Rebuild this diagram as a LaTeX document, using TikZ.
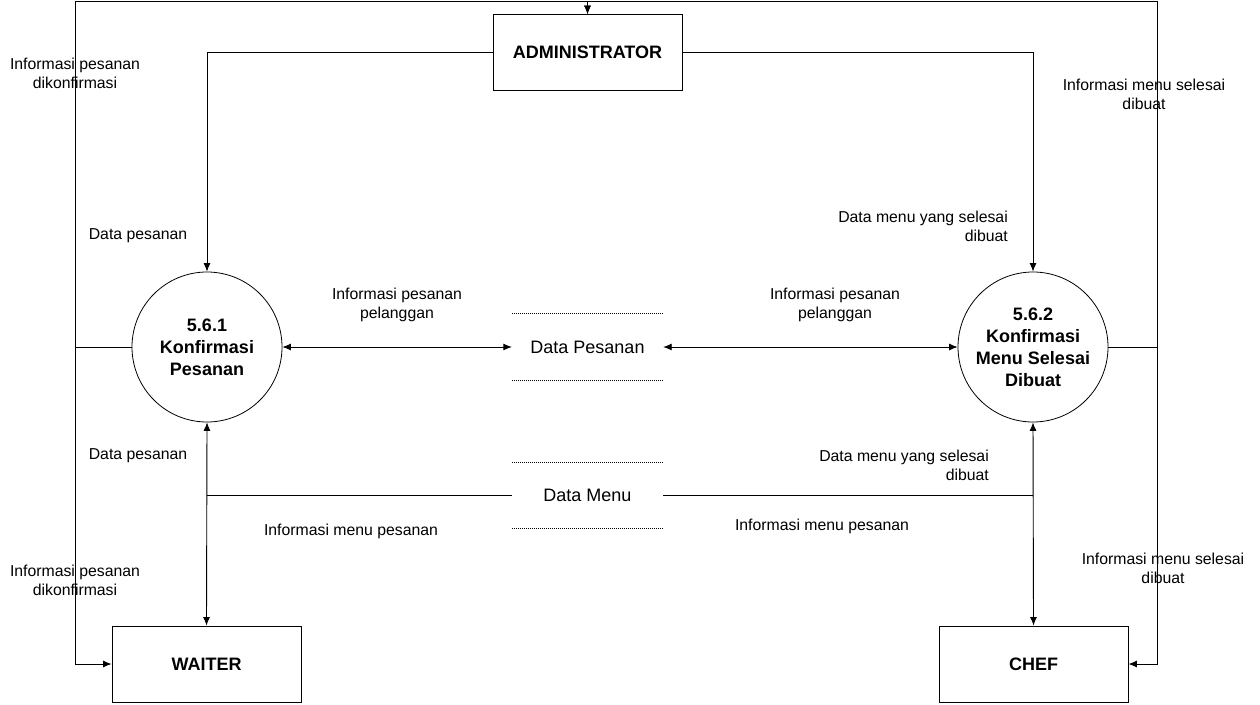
\documentclass[tikz,border=0pt]{standalone}
\usepackage{fontspec}
\setmainfont{Liberation Sans}
\usetikzlibrary{arrows.meta}

\tikzset{
	entity/.style={draw, line width=0.9pt, minimum width=189pt, minimum height=76pt, inner sep=0pt, font=\fontsize{18}{22}\selectfont\bfseries},
	process/.style={draw, circle, line width=0.8pt, minimum size=150pt, inner sep=0pt, align=center, font=\fontsize{18}{22}\selectfont\bfseries},
	store/.style={minimum width=151pt, minimum height=66pt, inner sep=0pt, font=\fontsize{18}{22}\selectfont},
	lbl/.style={align=center, inner sep=0pt, font=\fontsize{15.8}{19}\selectfont},
	flow/.style={line width=0.9pt, -{Latex[length=8.5pt,width=7pt]}},
	both/.style={line width=0.9pt, {Latex[length=8.5pt,width=7pt]}-{Latex[length=8.5pt,width=7pt]}},
	plain/.style={line width=0.9pt},
	dots/.style={line width=0.8pt, dash pattern=on 1pt off 1pt}
}

\begin{document}
\begin{tikzpicture}[x=1pt,y=-1pt]
			\useasboundingbox (0,0) rectangle (1260,704);
			
			% External entities
			\node[entity] (admin) at (587.5,52.5) {ADMINISTRATOR};
			\node[entity] (waiter) at (206.5,664) {WAITER};
			\node[entity] (chef) at (1033.5,664) {CHEF};
			
			% Processes
			\node[process] (konf) at (207,347) {5.6.1\\Konfirmasi\\Pesanan};
			\node[process] (menu) at (1033,347) {5.6.2\\Konfirmasi\\Menu Selesai\\Dibuat};
			
			% Data stores
			\node[store] (dpesan) at (587.5,347) {Data Pesanan};
			\node[store] (dmenu) at (587.5,495.5) {Data Menu};
			\draw[dots] (dpesan.north west) -- (dpesan.north east);
			\draw[dots] (dpesan.south west) -- (dpesan.south east);
			\draw[dots] (dmenu.north west) -- (dmenu.north east);
			\draw[dots] (dmenu.south west) -- (dmenu.south east);
			
			% Corners of the outer loop
			\coordinate (topleft) at (75,1);
			\coordinate (topright) at (1157,1);
			\coordinate (botleft) at (75,664);
			\coordinate (botright) at (1157,664);
			
			% Connecting lines
			\draw[flow] (konf.west) -| (topleft) -| (admin.north);
			\draw[flow] (konf.west) -| (botleft) -- (waiter.west);
			\draw[flow] (menu.east) -| (topright) -| (admin.north);
			\draw[flow] (menu.east) -| (botright) -- (chef.east);
			\draw[flow] (admin.west) -| (konf.north);
			\draw[flow] (admin.east) -| (menu.north);
			\draw[both] (konf.east) -- (dpesan.west);
			\draw[both] (dpesan.east) -- (menu.west);
			\draw[plain] (dmenu.west) -- (dmenu.west -| konf.south);
			\draw[plain] (dmenu.east) -- (dmenu.east -| menu.south);
			\draw[both] (konf.south) -- (waiter.north);
			\draw[both] (menu.south) -- (chef.north);
			
			% Flow labels
			\node[lbl] (l1) at (75,73.5) {Informasi pesanan\\dikonfirmasi};
			\node[lbl] (l2) at (75,580.5) {Informasi pesanan\\dikonfirmasi};
			\node[lbl] (l3) at (138,236) {Data pesanan};
			\node[lbl] (l4) at (138,456) {Data pesanan};
			\node[lbl] (l5) at (397,304.5) {Informasi pesanan\\pelanggan};
			\node[lbl] (l6) at (835,304.5) {Informasi pesanan\\pelanggan};
			\node[lbl] (l7) at (351,531) {Informasi menu pesanan};
			\node[lbl] (l8) at (822,526) {Informasi menu pesanan};
			\node[lbl, align=right, anchor=east] (l9) at (1008,226.5) {Data menu yang selesai\\dibuat};
			\node[lbl, align=right, anchor=east] (l10) at (989,465.5) {Data menu yang selesai\\dibuat};
			\node[lbl] (l11) at (1144,94.5) {Informasi menu selesai\\dibuat};
			\node[lbl] (l12) at (1163,568.5) {Informasi menu selesai\\dibuat};
			
\end{tikzpicture}
\end{document}
